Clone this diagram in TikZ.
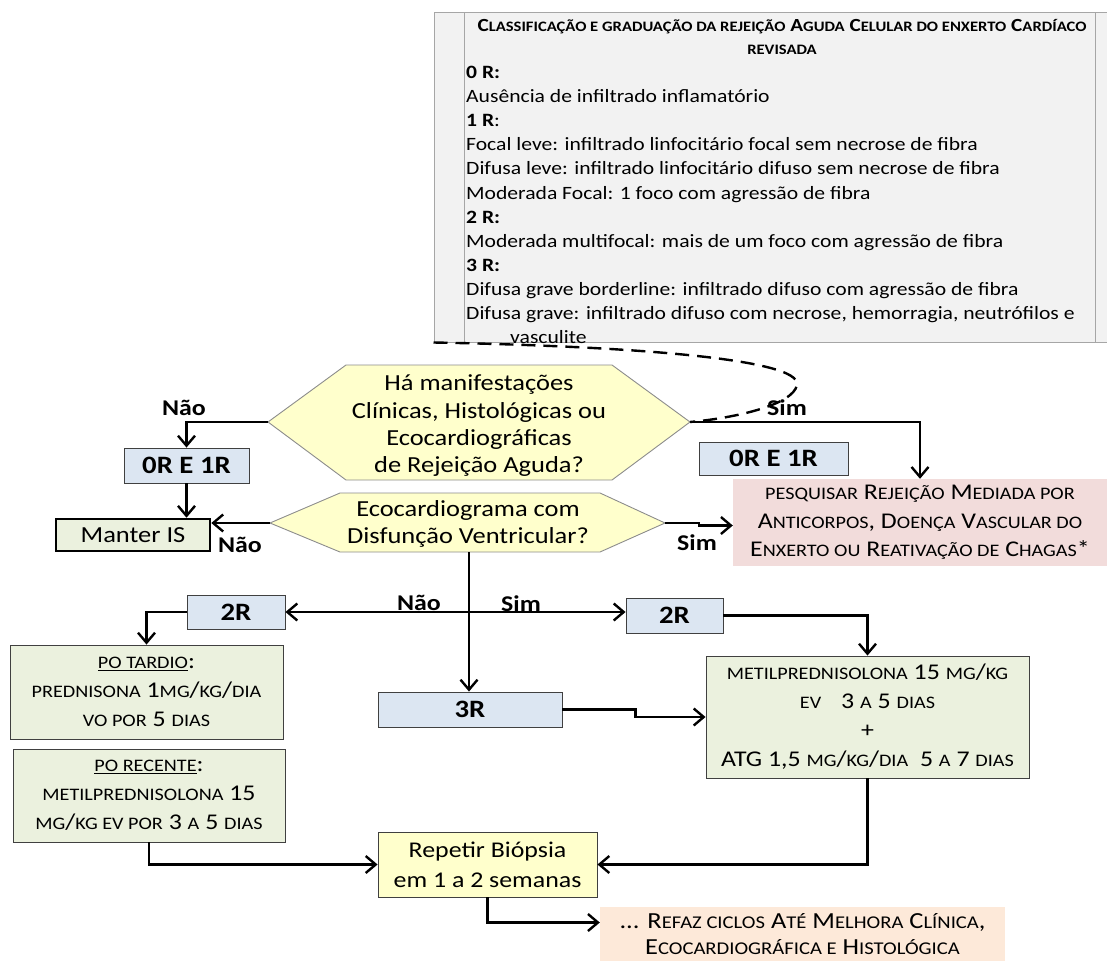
\documentclass[tikz,border=0pt]{standalone}
\usepackage{fontspec}
\setmainfont{Carlito}[FakeStretch=1.15]
\usetikzlibrary{arrows.meta}
\definecolor{hexfill}{HTML}{FFFFCC}
\definecolor{bluefill}{HTML}{DCE6F2}
\definecolor{greenfill}{HTML}{EBF1DE}
\definecolor{pinkfill}{HTML}{F2DCDB}
\definecolor{orangefill}{HTML}{FDE9D9}
\definecolor{panelfill}{HTML}{F2F2F2}
\definecolor{paneledge}{HTML}{A6A6A6}
\definecolor{darkedge}{HTML}{404040}
\definecolor{hexedge}{HTML}{8C8C8C}
\newcommand\fsz[2]{\fontsize{#1}{#2}\selectfont}
\newcommand\smc[1]{{\fontsize{\fpeval{0.78*\csname f@size\endcsname}}{\the\baselineskip}\selectfont #1}}
\tikzset{
  conn/.style={line width=2.4pt, draw=black},
  arr/.style={conn, -{Straight Barb[length=10pt,width=17pt]}},
  dashline/.style={line width=2.4pt, dash pattern=on 14pt off 8pt},
  lbl/.style={font=\fsz{22.5}{24}\bfseries, inner sep=0},
  bluebox/.style={draw=darkedge, line width=0.9pt, fill=bluefill, inner sep=0, font=\fsz{25}{26}\bfseries},
  greenbox/.style={draw=darkedge, line width=0.9pt, fill=greenfill, inner sep=0, align=center, font=\fsz{22.5}{29}},
  hexstyle/.style={draw=hexedge, line width=0.9pt, fill=hexfill},
  hextext/.style={inner sep=0, align=center, font=\fsz{23}{27.3}},
  panelbox/.style={draw=paneledge, line width=1pt, fill=panelfill, inner sep=0},
  panelline/.style={draw=paneledge, line width=1pt},
}
\begin{document}
\begin{tikzpicture}[x=1pt,y=-1pt]
\useasboundingbox (0,0) rectangle (1107,960);

% ---- classification panel ----
\node[panelbox, minimum width=681pt, minimum height=329pt] (panel) at (774.5,177.5) {};
\draw[panelline] (464,13) -- (464,342);
\draw[panelline] (1095,13) -- (1095,342);
\node[font=\fsz{18.5}{23}\bfseries, align=center, inner sep=0] (title) at (782,36.5)
  {C\smc{LASSIFICAÇÃO E GRADUAÇÃO DA REJEIÇÃO} A\smc{GUDA} C\smc{ELULAR DO ENXERTO} C\smc{ARDÍACO}\\ \smc{REVISADA}};
\node[font=\fsz{18.8}{24.1}, align=left, anchor=north west, inner sep=0] (classes) at (466,66)
  {\textbf{0 R:}\\
   Ausência de infiltrado inflamatório\\
   \textbf{1 R}:\\
   Focal leve: infiltrado linfocitário focal sem necrose de fibra\\
   Difusa leve: infiltrado linfocitário difuso sem necrose de fibra\\
   Moderada Focal: 1 foco com agressão de fibra\\
   \textbf{2 R:}\\
   Moderada multifocal: mais de um foco com agressão de fibra\\
   \textbf{3 R:}\\
   Difusa grave borderline: infiltrado difuso com agressão de fibra\\
   Difusa grave: infiltrado difuso com necrose, hemorragia, neutrófilos e\\
   \hspace*{44pt}vasculite};

% ---- hexagon 1 ----
\coordinate (h1w) at (268,422);
\coordinate (h1nw) at (346,365);
\coordinate (h1ne) at (612,365);
\coordinate (h1e) at (690,422);
\coordinate (h1se) at (612,480);
\coordinate (h1sw) at (346,480);
\draw[hexstyle] (h1w) -- (h1nw) -- (h1ne) -- (h1e) -- (h1se) -- (h1sw) -- cycle;
\node[hextext] (q1) at (479,426) {Há manifestações\\Clínicas, Histológicas ou\\Ecocardiográficas\\de Rejeição Aguda?};

% ---- hexagon 2 ----
\coordinate (h2w) at (270,523);
\coordinate (h2nw) at (340,493);
\coordinate (h2ne) at (600,493);
\coordinate (h2e) at (665,523);
\coordinate (h2se) at (600,552);
\coordinate (h2sw) at (340,552);
\coordinate (h2s) at (469,552);
\draw[hexstyle] (h2w) -- (h2nw) -- (h2ne) -- (h2e) -- (h2se) -- (h2sw) -- cycle;
\node[hextext] (q2) at (468,524) {Ecocardiograma com\\Disfunção Ventricular?};

% ---- boxes ----
\node[bluebox, minimum width=125pt, minimum height=35pt] (b0l) at (186.5,465.5) {0R E 1R};
\node[draw=black, line width=2.6pt, fill=greenfill, inner sep=0, minimum width=154pt, minimum height=32pt, font=\fsz{23}{26}] (manter) at (133,535) {Manter IS};
\node[bluebox, minimum width=149pt, minimum height=33pt] (b0r) at (773.5,458.5) {0R E 1R};
\node[fill=pinkfill, inner sep=0, minimum width=374pt, minimum height=87pt, align=center, font=\fsz{22.5}{28.5}] (pink) at (920,522.5)
  {\smc{PESQUISAR} R\smc{EJEIÇÃO} M\smc{EDIADA POR}\\
   A\smc{NTICORPOS}, D\smc{OENÇA} V\smc{ASCULAR DO}\\
   E\smc{NXERTO OU} R\smc{EATIVAÇÃO DE} C\smc{HAGAS}*};
\node[bluebox, minimum width=98pt, minimum height=34pt] (r2l) at (236,612) {2R};
\node[bluebox, minimum width=97pt, minimum height=35pt] (r2r) at (674.5,615.5) {2R};
\node[bluebox, minimum width=184pt, minimum height=35pt] (r3) at (470,709.5) {3R};
\node[greenbox, minimum width=273pt, minimum height=94pt] (g1) at (146.5,692)
  {\underline{\smc{PO TARDIO}}:\\
   \smc{PREDNISONA} 1\smc{MG}/\smc{KG}/\smc{DIA}\\
   \smc{VO POR} 5 \smc{DIAS}};
\node[greenbox, minimum width=272pt, minimum height=93pt] (g2) at (149,795.5)
  {\underline{\smc{PO RECENTE}}:\\
   \smc{METILPREDNISOLONA} 15\\
   \smc{MG}/\smc{KG EV POR} 3 \smc{A} 5 \smc{DIAS}};
\node[greenbox, minimum width=323pt, minimum height=122pt] (bg) at (867.5,717)
  {\smc{METILPREDNISOLONA} 15 \smc{MG}/\smc{KG}\\
   \smc{EV}\hspace{14pt} 3 \smc{A} 5 \smc{DIAS}\\
   +\\
   ATG 1,5 \smc{MG}/\smc{KG}/\smc{DIA}\hspace{6pt} 5 \smc{A} 7 \smc{DIAS}};
\node[draw=darkedge, line width=0.9pt, fill=hexfill, inner sep=0, minimum width=219pt, minimum height=65pt, align=center, font=\fsz{22.5}{30}] (rep) at (487.5,864.5)
  {Repetir Biópsia\\em 1 a 2 semanas};
\node[fill=orangefill, inner sep=0, minimum width=405pt, minimum height=55pt, align=center, font=\fsz{23}{26}] (orange) at (802.5,934.5)
  {... R\smc{EFAZ CICLOS} A\smc{TÉ} M\smc{ELHORA} C\smc{LÍNICA},\\
   E\smc{COCARDIOGRÁFICA E} H\smc{ISTOLÓGICA}};

% ---- labels ----
\node[lbl] (nao1) at (184,408) {Não};
\node[lbl] (sim1) at (787,408) {Sim};
\node[lbl] (nao2) at (240,545) {Não};
\node[lbl] (sim2) at (697,543) {Sim};
\node[lbl] (nao3) at (419,603) {Não};
\node[lbl] (sim3) at (521,604) {Sim};

% ---- connectors ----
\draw[dashline] (panel.south west) .. controls (620,346) and (802,358) .. (797,385)
  .. controls (793,405) and (735,418) .. (h1e);
\draw[arr] (h1w) -| (b0l.north);
\draw[arr] (b0l.south) -- (b0l.south |- manter.north);
\draw[arr] (h2w) -- (h2w -| manter.east);
\draw[arr] (h1e) -| (pink.north);
\draw[arr] (h2e) -- ++(34,0) |- ([yshift=-3pt]pink.west);
\coordinate (jn) at (469,612);
\draw[conn] (h2s) -- (jn);
\draw[arr] (jn) -- (jn |- r3.north);
\draw[arr] (jn) -- (jn -| r2l.east);
\draw[arr] (jn) -- (jn -| r2r.west);
\draw[arr] (r2l.west) -| (g1.north);
\draw[arr] (r2r.east) -| (bg.north);
\draw[arr] (r3.east) -- ++(73,0) |- (bg.west);
\draw[arr] (bg.south) |- (rep.east);
\draw[arr] (g2.south) |- (rep.west);
\draw[arr] (rep.south) |- ([yshift=12pt]orange.west);
\end{tikzpicture}
\end{document}
